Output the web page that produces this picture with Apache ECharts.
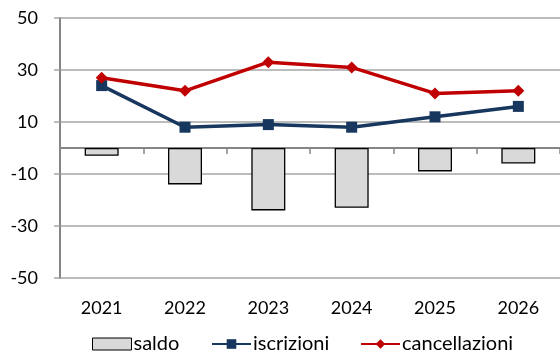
<!DOCTYPE html>
<html>
<head>
<meta charset="utf-8">
<script src="https://cdn.jsdelivr.net/npm/echarts@6/dist/echarts.min.js"></script>
<style>
  html, body { margin: 0; padding: 0; background: #fff; }
  #chart { width: 560px; height: 351px; }
</style>
</head>
<body>
<div id="chart"></div>
<script>
// Anni e serie
const years = ['2021', '2022', '2023', '2024', '2025', '2026'];
const saldo = [-3, -14, -24, -23, -9, -6];
const iscrizioni = [24, 8, 9, 8, 12, 16];
const cancellazioni = [27, 22, 33, 31, 21, 22];
const yTicks = { min: -50, max: 50, interval: 20 };

const FONT = 'Lato';
const gridColor = '#A6A6A6';
const axisColor = '#868686';
const barFill = '#D9D9D9';
const blue = '#17375E';
const red = '#C00000';

const chart = echarts.init(document.getElementById('chart'), null, { renderer: 'canvas' });

// one legend block per entry, each anchored at its own left offset
function legendAt(left, entry) {
  return {
    left: left,
    top: 334,
    padding: 0,
    itemWidth: 39,
    itemHeight: 12,
    textStyle: { fontFamily: FONT, fontSize: 20, lineHeight: 20, color: '#000', padding: [0, 0, 0, -3] },
    data: [entry]
  };
}

chart.setOption({
  animation: false,
  textStyle: { fontFamily: FONT },
  grid: { left: 60, right: 0, top: 18, bottom: 73, containLabel: false },
  legend: [
    legendAt(92, { name: 'saldo', icon: 'rect', itemStyle: { color: barFill, borderColor: '#000', borderWidth: 1 } }),
    legendAt(211, { name: 'iscrizioni' }),
    legendAt(360, { name: 'cancellazioni' })
  ],
  xAxis: [
    {
      // year labels along the bottom edge
      type: 'category',
      data: years,
      position: 'bottom',
      axisLine: { show: false, onZero: false },
      axisTick: { show: false },
      axisLabel: { fontFamily: FONT, fontSize: 18, color: '#000', margin: 21 }
    },
    {
      // zero line with category ticks
      type: 'category',
      data: years,
      position: 'bottom',
      axisLine: { show: true, onZero: true, lineStyle: { color: axisColor, width: 2 } },
      axisTick: { show: true, length: 6, lineStyle: { color: axisColor, width: 1.5 } },
      axisLabel: { show: false }
    }
  ],
  yAxis: {
    type: 'value',
    min: yTicks.min,
    max: yTicks.max,
    interval: yTicks.interval,
    axisLine: { show: true, lineStyle: { color: axisColor, width: 2 } },
    axisTick: { show: true, length: 6, lineStyle: { color: gridColor, width: 1.5 } },
    axisLabel: { fontFamily: FONT, fontSize: 18, color: '#000', margin: 22 },
    splitLine: { show: true, lineStyle: { color: gridColor, width: 1.5 } }
  },
  series: [
    {
      name: 'saldo',
      type: 'bar',
      xAxisIndex: 0,
      data: saldo,
      barWidth: 34,
      itemStyle: { color: barFill, borderColor: '#000', borderWidth: 1.3 }
    },
    {
      name: 'iscrizioni',
      type: 'line',
      xAxisIndex: 0,
      data: iscrizioni,
      symbol: 'rect',
      symbolSize: 11,
      lineStyle: { color: blue, width: 3.5 },
      itemStyle: { color: blue },
      z: 3
    },
    {
      name: 'cancellazioni',
      type: 'line',
      xAxisIndex: 0,
      data: cancellazioni,
      symbol: 'diamond',
      symbolSize: [12, 12],
      lineStyle: { color: red, width: 3.5 },
      itemStyle: { color: red },
      z: 4
    }
  ]
});
</script>
</body>
</html>
